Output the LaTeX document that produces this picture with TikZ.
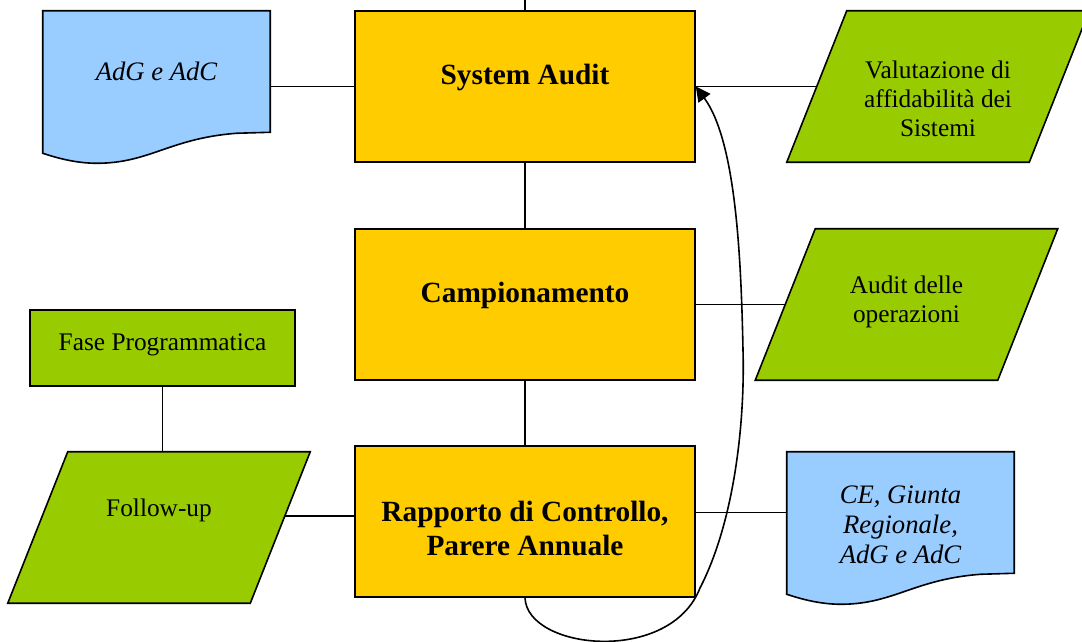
\documentclass[tikz,border=0pt]{standalone}
\usepackage{fontspec}
\setmainfont{Liberation Serif}
\usetikzlibrary{calc,arrows.meta,backgrounds}
\definecolor{boxorange}{HTML}{FFCC00}
\definecolor{boxgreen}{HTML}{99CC00}
\definecolor{boxblue}{HTML}{99CCFF}
\begin{document}
\begin{tikzpicture}[x=0.75pt,y=-0.75pt,
  outline/.style={draw=black,line width=1.2pt,line join=miter},
  link/.style={draw=black,line width=1.2pt},
  stepbox/.style={outline,fill=boxorange,minimum width=255pt,minimum height=113.25pt,inner sep=0pt},
  slantbox/.style={minimum width=181.5pt,minimum height=113.25pt,inner sep=0pt},
  docbox/.style={minimum width=170.25pt,minimum height=90.75pt,inner sep=0pt},
  plainbox/.style={outline,fill=boxgreen,minimum width=198.75pt,minimum height=57pt,inner sep=0pt},
  boldtxt/.style={font=\fontsize{22pt}{25.5pt}\selectfont\bfseries,align=center},
  regtxt/.style={font=\fontsize{19pt}{21.75pt}\selectfont,align=center},
  itxt/.style={font=\fontsize{20pt}{22.5pt}\selectfont\itshape,align=center},
]
\useasboundingbox (0,0) rectangle (1082,642);

% main process column
\node[stepbox,label={[boldtxt,yshift=6.4pt]center:System Audit}] (sa) at (525,86.5) {};
\node[stepbox,label={[boldtxt,yshift=7pt]center:Campionamento}] (camp) at (525,304.5) {};
\node[stepbox,label={[boldtxt,yshift=-5.6pt]center:{Rapporto di Controllo,\\Parere Annuale}}] (rap) at (525,521.5) {};

% side boxes (outlines are drawn below on the background layer)
\node[slantbox,label={[regtxt,yshift=-9.4pt]center:{Valutazione di\\affidabilità dei\\Sistemi}}] (val) at (938,86.5) {};
\node[slantbox,label={[regtxt,yshift=1.9pt]center:{Audit delle\\operazioni}}] (aud) at (906.5,304.5) {};
\node[slantbox,label={[regtxt,yshift=13pt]center:Follow-up}] (fu) at (159,527.5) {};
\node[plainbox,label={[regtxt,yshift=2.2pt]center:Fase Programmatica}] (fase) at (162.5,348) {};
\node[docbox,label={[itxt]center:AdG e AdC}] (adg) at (156.5,71.5) {};
\node[docbox,label={[itxt,yshift=-9.4pt]center:{CE, Giunta\\Regionale,\\AdG e AdC}}] (ce) at (900.5,512.5) {};

\begin{scope}[on background layer]
  % parallelograms
  \foreach \n in {val,aud,fu}
    \draw[outline,fill=boxgreen]
      ($(\n.north west)+(30,0)$) -- ($(\n.north east)+(30,0)$) --
      ($(\n.south east)+(-30,0)$) -- ($(\n.south west)+(-30,0)$) -- cycle;
  % document shapes with a wavy lower edge
  \foreach \n in {adg,ce}
    \draw[outline,fill=boxblue]
      (\n.north west) -- (\n.north east) -- (\n.south east) --
      ($(\n.south west)+(194,1)$)
      .. controls ($(\n.south west)+(127,6)$) and ($(\n.south west)+(107,31)$) ..
      ($(\n.south west)+(54,31)$)
      .. controls ($(\n.south west)+(32,31)$) and ($(\n.south west)+(12,25)$) ..
      ($(\n.south west)+(0,21)$) -- cycle;
\end{scope}

% connectors
\coordinate (topend) at (525,0);
\draw[link] (sa.north) -- (topend);
\draw[link] (sa.south) -- (camp.north);
\draw[link] (camp.south) -- (rap.north);
\draw[link] (sa.west -| adg.east) -- (sa.west);
\draw[link] (sa.east) -- (val.west);
\draw[link] (camp.east |- aud.west) -- (aud.west);
\draw[link] (rap.east |- ce.west) -- (ce.west);
\draw[link] (fase.south) -- (fase.south |- fu.north);
\coordinate (fuout) at ($(fu.east)+(4.6,-11.5)$);
\draw[link] (fuout) -- (fuout -| rap.west);

% feedback loop from the report back to the system audit
\draw[link,-{Triangle[length=11pt,width=11pt]}]
  (rap.south) .. controls (527,650) and (670,665) .. (700,588)
  .. controls (735,520) and (745,420) .. (743,350)
  .. controls (741,250) and (735,140) .. (sa.east);
\end{tikzpicture}
\end{document}
